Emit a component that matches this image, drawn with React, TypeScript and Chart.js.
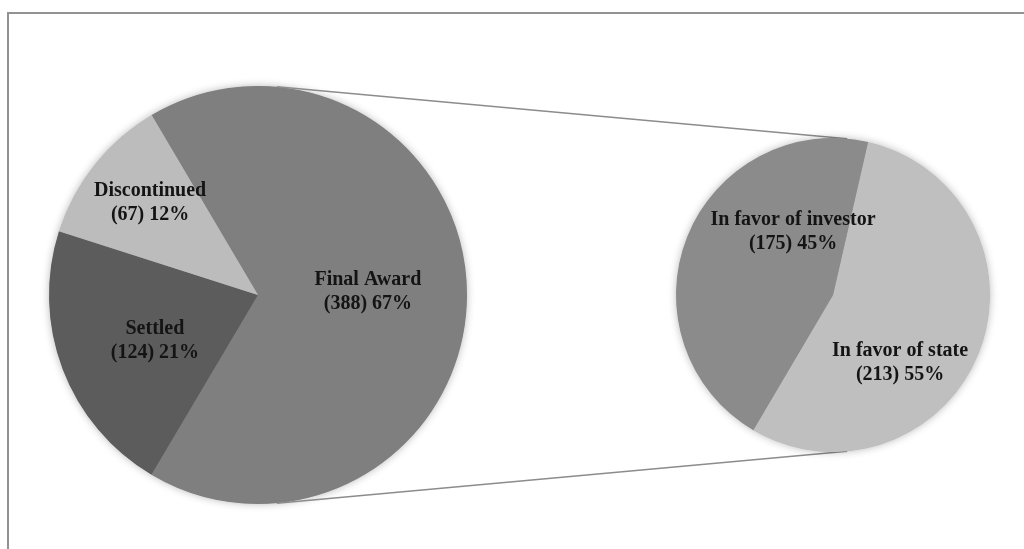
import React, { useEffect, useRef } from 'react';
import { Chart, registerables } from 'chart.js';

Chart.register(...registerables);

// ---- data ----
const MAIN_LABELS = ['Final Award', 'Settled', 'Discontinued'];
const MAIN_VALUES = [388, 124, 67];
const SUB_LABELS = ['In favor of state', 'In favor of investor'];
const SUB_VALUES = [213, 175];

// ---- styles ----
const MAIN_COLORS = ['#7f7f7f', '#5c5c5c', '#bcbcbc'];
const SUB_COLORS = ['#bfbfbf', '#8b8b8b'];
const MAIN_ROTATION = -30.6;
const SUB_ROTATION = 12.9;
// label anchor: [angle in degrees (clockwise from +x), fraction of radius]
const MAIN_LABEL_POLAR: [number, number][] = [[-1.8, 0.526], [156.2, 0.539], [-139.4, 0.68]];
const SUB_LABEL_POLAR: [number, number][] = [[45.2, 0.606], [-122.4, 0.475]];
const FONT = '"Liberation Serif", "Times New Roman", serif';
const FONT_SIZE = 20;
const LINE_H = 24;
const W = 1024;
const H = 549;

function makeLabelPlugin(id: string, names: string[], values: number[], polar: [number, number][]) {
  const total = values.reduce((a, b) => a + b, 0);
  return {
    id,
    afterDatasetsDraw(chart: any) {
      const ctx = chart.ctx;
      const arcs = chart.getDatasetMeta(0).data;
      ctx.save();
      ctx.font = `bold ${FONT_SIZE}px ${FONT}`;
      ctx.fillStyle = '#141414';
      ctx.textAlign = 'center';
      ctx.textBaseline = 'middle';
      arcs.forEach((arc: any, i: number) => {
        const p = arc.getProps(['x', 'y', 'outerRadius'], true);
        const [deg, frac] = polar[i];
        const a = (deg * Math.PI) / 180;
        const cx = p.x + Math.cos(a) * frac * p.outerRadius;
        const cy = p.y + Math.sin(a) * frac * p.outerRadius;
        const pct = Math.round((values[i] / total) * 100);
        ctx.fillText(names[i], cx, cy - LINE_H / 2);
        ctx.fillText(`(${values[i]}) ${pct}%`, cx, cy + LINE_H / 2);
      });
      ctx.restore();
    },
  };
}

// soft glow behind the whole pie (decoration only)
const shadowPlugin = {
  id: 'pieShadow',
  beforeDatasetsDraw(chart: any) {
    const arc = chart.getDatasetMeta(0).data[0] as any;
    if (!arc) return;
    const p = arc.getProps(['x', 'y', 'outerRadius'], true);
    const ctx = chart.ctx;
    ctx.save();
    ctx.shadowColor = 'rgba(0,0,0,0.3)';
    ctx.shadowBlur = 9;
    ctx.fillStyle = '#9a9a9a';
    ctx.beginPath();
    ctx.arc(p.x, p.y, p.outerRadius - 0.5, 0, Math.PI * 2);
    ctx.fill();
    ctx.restore();
  },
};

export default function App() {
  const mainRef = useRef<HTMLCanvasElement>(null);
  const subRef = useRef<HTMLCanvasElement>(null);

  useEffect(() => {
    if (!mainRef.current || !subRef.current) return;
    const common = {
      responsive: false,
      animation: false as const,
      events: [] as any[],
      plugins: { legend: { display: false }, tooltip: { enabled: false } },
    };
    const main = new Chart(mainRef.current, {
      type: 'pie',
      data: {
        labels: MAIN_LABELS,
        datasets: [{ data: MAIN_VALUES, backgroundColor: MAIN_COLORS, borderWidth: 0, hoverOffset: 0, offset: 0 }],
      },
      options: {
        ...common,
        rotation: MAIN_ROTATION,
        layout: { padding: { left: 49, top: 86, right: 557, bottom: 45 } },
      } as any,
      plugins: [shadowPlugin, makeLabelPlugin('mainLabels', MAIN_LABELS, MAIN_VALUES, MAIN_LABEL_POLAR)],
    });

    const connector = {
      id: 'connector',
      beforeDatasetsDraw(chart: any) {
        const a = main.getDatasetMeta(0).data[0] as any;
        const b = chart.getDatasetMeta(0).data[0] as any;
        if (!a || !b) return;
        const p1 = a.getProps(['x', 'y', 'outerRadius'], true);
        const p2 = b.getProps(['x', 'y', 'outerRadius'], true);
        const dx = p2.x - p1.x;
        const dy = p2.y - p1.y;
        const D = Math.hypot(dx, dy);
        const ux = dx / D;
        const uy = dy / D;
        const px = -uy;
        const py = ux;
        const k = (p1.outerRadius - p2.outerRadius) / D;
        const s = Math.sqrt(1 - k * k);
        const ctx = chart.ctx;
        ctx.save();
        ctx.strokeStyle = '#8c8c8c';
        ctx.lineWidth = 1.5;
        [1, -1].forEach((sign) => {
          const nx = k * ux + sign * s * px;
          const ny = k * uy + sign * s * py;
          ctx.beginPath();
          ctx.moveTo(p1.x + p1.outerRadius * nx, p1.y + p1.outerRadius * ny);
          ctx.lineTo(p2.x + p2.outerRadius * nx, p2.y + p2.outerRadius * ny);
          ctx.stroke();
        });
        ctx.restore();
      },
    };

    const sub = new Chart(subRef.current, {
      type: 'pie',
      data: {
        labels: SUB_LABELS,
        datasets: [{ data: SUB_VALUES, backgroundColor: SUB_COLORS, borderWidth: 0, hoverOffset: 0, offset: 0 }],
      },
      options: {
        ...common,
        rotation: SUB_ROTATION,
        layout: { padding: { left: 676, top: 138, right: 34, bottom: 97 } },
      } as any,
      plugins: [connector, shadowPlugin, makeLabelPlugin('subLabels', SUB_LABELS, SUB_VALUES, SUB_LABEL_POLAR)],
    });

    return () => {
      sub.destroy();
      main.destroy();
    };
  }, []);

  return (
    <div style={{ position: 'fixed', left: 0, top: 0, width: W, height: H, background: '#fff', overflow: 'hidden' }}>
      <div
        style={{
          position: 'absolute',
          left: 7,
          top: 12,
          right: -4,
          bottom: -4,
          borderTop: '2px solid #929292',
          borderLeft: '2px solid #929292',
        }}
      />
      <canvas ref={mainRef} width={W} height={H} style={{ position: 'absolute', left: 0, top: 0 }} />
      <canvas ref={subRef} width={W} height={H} style={{ position: 'absolute', left: 0, top: 0 }} />
    </div>
  );
}
